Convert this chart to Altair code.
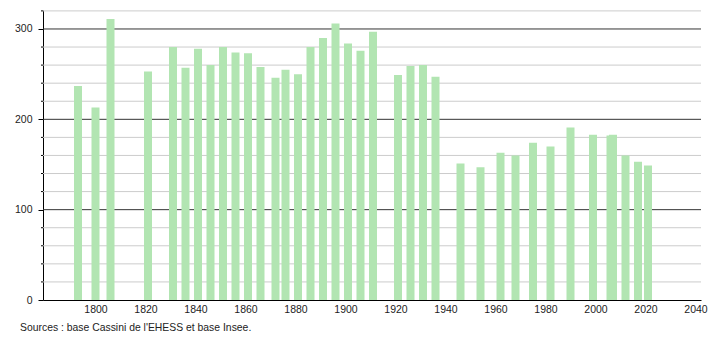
import altair as alt
import pandas as pd

years = [1793, 1800, 1806, 1821, 1831, 1836, 1841, 1846, 1851, 1856, 1861, 1866,
         1872, 1876, 1881, 1886, 1891, 1896, 1901, 1906, 1911, 1921, 1926, 1931,
         1936, 1946, 1954, 1962, 1968, 1975, 1982, 1990, 1999, 2006, 2007, 2012,
         2017, 2021]
population = [237, 213, 311, 253, 280, 257, 278, 260, 280, 274, 273, 258,
              246, 255, 250, 280, 290, 306, 284, 276, 297, 249, 259, 260,
              247, 151, 147, 163, 160, 174, 170, 191, 183, 182, 183, 160,
              153, 149]
x_ticks = [1800, 1820, 1840, 1860, 1880, 1900, 1920, 1940, 1960, 1980, 2000, 2020, 2040]
y_major = [0, 100, 200, 300]
y_minor = [20, 40, 60, 80, 120, 140, 160, 180, 220, 240, 260, 280, 320]
source_text = "Sources : base Cassini de l'EHESS et base Insee."

W, H = 658, 290
FONT = "Liberation Sans"

df = pd.DataFrame({"year": years, "pop": population})
grid_df = pd.DataFrame({"v": y_major[1:] + y_minor,
                        "kind": ["major"] * (len(y_major) - 1) + ["minor"] * len(y_minor)})
minor_df = pd.DataFrame({"v": y_minor})

xscale = alt.Scale(domain=[1779, 2042.2], nice=False, zero=False, padding=0)
yscale = alt.Scale(domain=[0, 321], nice=False, padding=0)

yaxis = alt.Axis(values=y_major, grid=False, tickSize=5, tickColor="#000000",
                 domainColor="#000000", labelColor="#222222",
                 labelFont=FONT, labelFontSize=10.5, labelPadding=6)
xaxis = alt.Axis(values=x_ticks, format="d", ticks=False, grid=False,
                 domainColor="#000000", labelColor="#222222",
                 labelFont=FONT, labelFontSize=10.5, labelPadding=4,
                 labelFlush=False)

grid = alt.Chart(grid_df).mark_rule(strokeWidth=1).encode(
    y=alt.Y("v:Q", scale=yscale, axis=yaxis, title=None),
    x=alt.value(0), x2=alt.value(W),
    color=alt.Color("kind:N", scale=alt.Scale(domain=["major", "minor"],
                                               range=["#333333", "#cccccc"]), legend=None),
)

minor_ticks = alt.Chart(minor_df).mark_rule(color="#000000", strokeWidth=1).encode(
    y=alt.Y("v:Q", scale=yscale, axis=yaxis, title=None),
    x=alt.value(-2), x2=alt.value(0),
)

bars = alt.Chart(df).mark_bar(size=8, color="#b2e5b2").encode(
    x=alt.X("year:Q", scale=xscale, title=None, axis=xaxis),
    y=alt.Y("pop:Q", scale=yscale, title=None, axis=yaxis),
)

source = alt.Chart(pd.DataFrame({"t": [source_text]})).mark_text(
    align="left", baseline="alphabetic", font=FONT, fontSize=10.4, color="#222222"
).encode(x=alt.value(-23), y=alt.value(321), text="t:N")

chart = alt.layer(grid, minor_ticks, bars, source).properties(
    width=W, height=H,
    autosize=alt.AutoSizeParams(type="none"),
    padding={"left": 43, "top": 10, "right": 9, "bottom": 40},
).configure_view(stroke=None).configure_axis(domainWidth=1)

chart.save("out.html", embed_options={"renderer": "svg", "actions": False})
